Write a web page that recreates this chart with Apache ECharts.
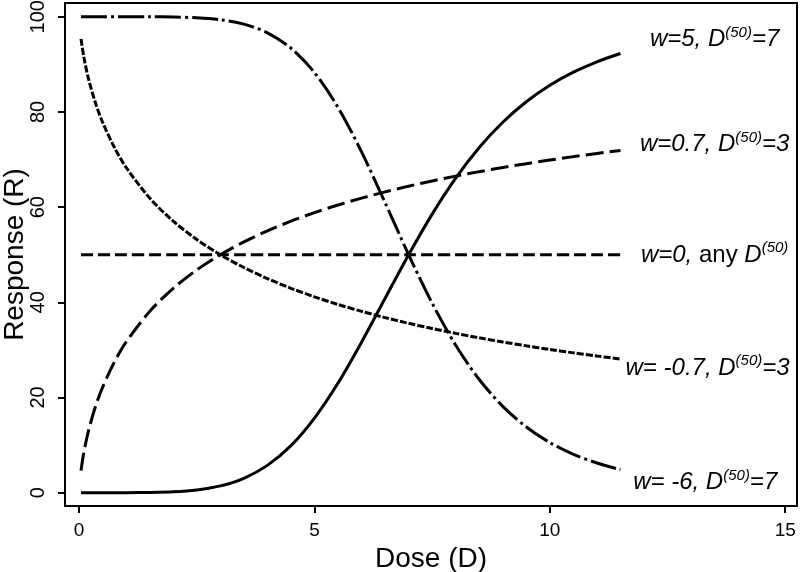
<!DOCTYPE html>
<html>
<head>
<meta charset="utf-8">
<script src="https://cdn.jsdelivr.net/npm/echarts@6/dist/echarts.min.js"></script>
<style>html,body{margin:0;padding:0;background:#fff;}#c{width:800px;height:572px;}</style>
</head>
<body>
<div id="c"></div>
<script>
// Dose values (x) shared by all curves
var dose = [0.04, 0.1, 0.2, 0.35, 0.5, 0.75, 1, 1.5, 2, 2.5, 3, 3.5, 4, 4.5, 5, 5.5, 6, 6.5, 7, 7.5, 8, 8.5, 9, 9.5, 10, 10.5, 11, 11.5];
// Responses
var respW5 = [0, 0, 0, 0, 0, 0, 0.01, 0.05, 0.19, 0.58, 1.43, 3.03, 5.74, 9.89, 15.68, 23.04, 31.63, 40.84, 50, 58.54, 66.10, 72.53, 77.84, 82.15, 85.61, 88.36, 90.55, 92.29];
var respW07 = [4.64, 8.46, 13.06, 18.18, 22.19, 27.47, 31.67, 38.10, 42.95, 46.81, 50, 52.69, 55.02, 57.05, 58.84, 60.45, 61.89, 63.21, 64.41, 65.50, 66.52, 67.46, 68.33, 69.14, 69.90, 70.62, 71.29, 71.92];
var respW0 = [50, 50, 50, 50, 50, 50, 50, 50, 50, 50, 50, 50, 50, 50, 50, 50, 50, 50, 50, 50, 50, 50, 50, 50, 50, 50, 50, 50];
var respWm07 = [95.36, 91.54, 86.94, 81.82, 77.81, 72.53, 68.33, 61.90, 57.05, 53.19, 50, 47.31, 44.98, 42.95, 41.16, 39.55, 38.11, 36.79, 35.59, 34.50, 33.48, 32.54, 31.67, 30.86, 30.10, 29.38, 28.71, 28.08];
var respWm6 = [100, 100, 100, 100, 100, 100, 100, 100, 99.95, 99.79, 99.38, 98.46, 96.64, 93.41, 88.28, 80.96, 71.60, 60.94, 50, 39.80, 30.98, 23.78, 18.13, 13.80, 10.53, 8.07, 6.23, 4.84];
// Tick labels
var xTicks = [0, 5, 10, 15];
var yTicks = [0, 20, 40, 60, 80, 100];
// Curve annotations: [x, y, label]
var annotations = [
  [13.5, 95.2, '{i|w=5, D}{s|(50)}{i|=7}'],
  [13.5, 73.2, '{i|w=0.7, D}{s|(50)}{i|=3}'],
  [13.5, 49.9, '{i|w=0, }{n|any }{i|D}{s|(50)}'],
  [13.35, 26.2, '{i|w= -0.7, D}{s|(50)}{i|=3}'],
  [13.3, 2.1, '{i|w= -6, D}{s|(50)}{i|=7}']
];

function pairs(ys) { return dose.map(function (d, i) { return [d, ys[i]]; }); }

var FONT = 'Liberation Sans';
var chart = echarts.init(document.getElementById('c'));
function curve(ys, dash) {
  return {
    type: 'line', data: pairs(ys), showSymbol: false, symbol: 'none',
    smooth: 0.3,
    lineStyle: { color: '#000', width: 3, type: dash, cap: 'butt' },
    silent: true, z: 3
  };
}
chart.setOption({
  animation: false,
  backgroundColor: '#fff',
  grid: { left: 65, right: 3, top: 3, bottom: 66, show: true, borderColor: '#000', borderWidth: 2, backgroundColor: 'transparent', containLabel: false, outerBoundsMode: 'none' },
  xAxis: {
    type: 'value', min: -0.3, max: 15.25,
    axisLine: { show: false, onZero: false },
    splitLine: { show: false },
    axisTick: { show: true, length: 7, lineStyle: { color: '#000', width: 2 }, customValues: xTicks },
    axisLabel: { customValues: xTicks, color: '#000', fontSize: 19, fontFamily: FONT, margin: 15 },
    name: 'Dose (D)', nameLocation: 'middle', nameGap: 34,
    nameTextStyle: { color: '#000', fontSize: 28, fontFamily: FONT }
  },
  yAxis: {
    type: 'value', min: -2.8, max: 102.9,
    axisLine: { show: false, onZero: false },
    splitLine: { show: false },
    axisTick: { show: true, length: 7, lineStyle: { color: '#000', width: 2 }, customValues: yTicks },
    axisLabel: { customValues: yTicks, color: '#000', fontSize: 20, fontFamily: FONT, rotate: 90, margin: 17 },
    name: 'Response (R)', nameLocation: 'middle', nameGap: 36, nameMoveOverlap: false,
    nameTextStyle: { color: '#000', fontSize: 28, fontFamily: FONT }
  },
  series: [
    curve(respW5, 'solid'),
    curve(respW07, [18, 6]),
    curve(respW0, [12, 5]),
    curve(respWm07, [7, 2]),
    curve(respWm6, [26, 4, 3, 4]),
    {
      type: 'scatter', symbolSize: 0, silent: true, z: 5,
      data: annotations.map(function (a) { return { value: [a[0], a[1]], text: a[2] }; }),
      label: {
        show: true, position: 'inside', align: 'center', verticalAlign: 'middle',
        color: '#000', textBorderWidth: 0, opacity: 1,
        formatter: function (p) { return p.data.text; },
        rich: {
          i: { fontStyle: 'italic', fontSize: 24, fontFamily: FONT, color: '#000', textBorderWidth: 0 },
          n: { fontSize: 24, fontFamily: FONT, color: '#000', textBorderWidth: 0 },
          s: { fontStyle: 'italic', fontSize: 15, fontFamily: FONT, color: '#000', textBorderWidth: 0, padding: [0, 0, 14, 0] }
        }
      }
    }
  ]
});
</script>
</body>
</html>
